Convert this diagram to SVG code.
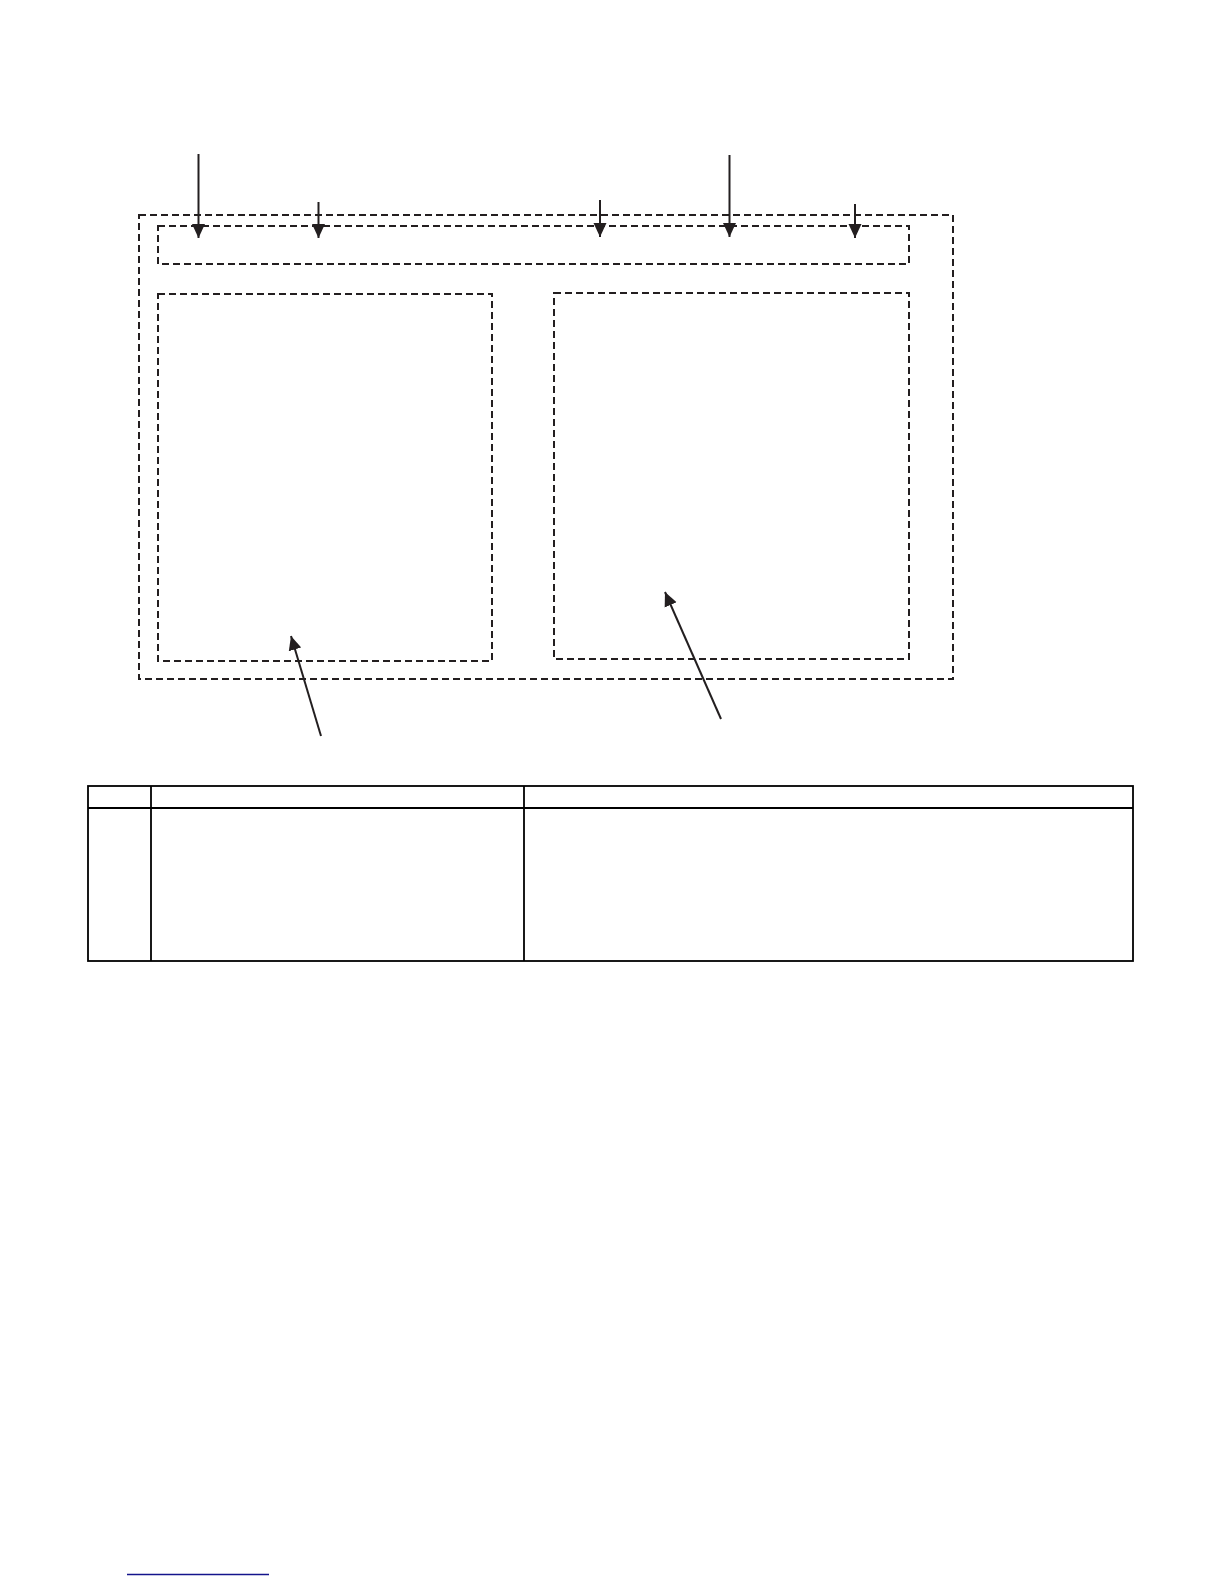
<svg xmlns="http://www.w3.org/2000/svg" width="1224" height="1584" viewBox="0 0 1224 1584">
<style>
.dash{fill:none;stroke:#231f20;stroke-width:2;stroke-dasharray:7,4}
.conn{fill:none;stroke:#231f20;stroke-width:2}
.tbl{fill:none;stroke:#000;stroke-width:1.8}
</style>
<defs>
<marker id="ah" markerUnits="userSpaceOnUse" markerWidth="15" markerHeight="14" refX="14" refY="7" orient="auto">
<path d="M0,0.5 L14,7 L0,13.5 Z" fill="#231f20"/>
</marker>
</defs>
<rect width="1224" height="1584" fill="#fff"/>
<g id="outer"><rect class="dash" x="139" y="215" width="814" height="464"/></g>
<g id="top-strip"><rect class="dash" x="158" y="226" width="751" height="38"/></g>
<g id="left-panel"><rect class="dash" x="158" y="294" width="334" height="367"/></g>
<g id="right-panel"><rect class="dash" x="554" y="293" width="355" height="366"/></g>
<g id="connectors">
<line class="conn" x1="198.5" y1="154" x2="198.5" y2="238" marker-end="url(#ah)"/>
<line class="conn" x1="318.5" y1="202" x2="318.5" y2="238" marker-end="url(#ah)"/>
<line class="conn" x1="600" y1="200" x2="600" y2="237" marker-end="url(#ah)"/>
<line class="conn" x1="729.5" y1="155" x2="729.5" y2="237" marker-end="url(#ah)"/>
<line class="conn" x1="855" y1="204" x2="855" y2="238" marker-end="url(#ah)"/>
<line class="conn" x1="321" y1="736" x2="291" y2="636" marker-end="url(#ah)"/>
<line class="conn" x1="721" y1="719" x2="665" y2="592" marker-end="url(#ah)"/>
</g>
<g id="table">
<rect class="tbl" x="88" y="786" width="1045" height="175"/>
<line class="tbl" x1="88" y1="808" x2="1133" y2="808"/>
<line class="tbl" x1="151" y1="786" x2="151" y2="961"/>
<line class="tbl" x1="524" y1="786" x2="524" y2="961"/>
</g>
<line x1="127" y1="1574.5" x2="269" y2="1574.5" stroke="#14148c" stroke-width="1.5"/>
</svg>
